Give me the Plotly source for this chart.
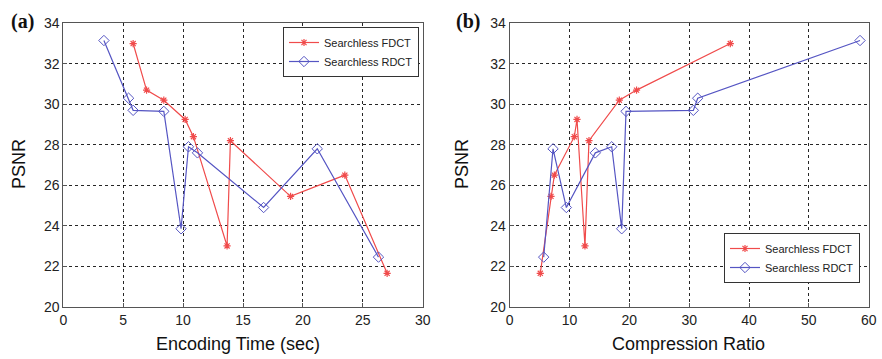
import plotly.graph_objects as go

# Panel (a): PSNR vs encoding time
time_fdct = [5.83, 6.95, 8.39, 10.17, 10.86, 13.67, 13.95, 18.97, 23.5, 27.03]
psnr_fdct_a = [33.0, 30.7, 30.2, 29.25, 28.4, 23.0, 28.2, 25.45, 26.5, 21.65]
time_rdct = [3.39, 5.45, 5.83, 8.39, 9.83, 10.45, 11.2, 16.72, 21.2, 26.31]
psnr_rdct_a = [33.15, 30.3, 29.7, 29.65, 23.85, 27.9, 27.6, 24.9, 27.8, 22.45]

# Panel (b): PSNR vs compression ratio
ratio_fdct = [5.11, 6.9, 7.46, 10.8, 11.25, 12.58, 13.25, 18.32, 21.2, 36.87]
psnr_fdct_b = [21.65, 25.45, 26.5, 28.4, 29.25, 23.0, 28.2, 30.2, 30.7, 33.0]
ratio_rdct = [5.68, 7.24, 9.47, 14.31, 17.05, 18.72, 19.44, 30.69, 31.42, 58.55]
psnr_rdct_b = [22.45, 27.8, 24.9, 27.6, 27.9, 23.85, 29.65, 29.7, 30.3, 33.15]

x_ticks_a = [0, 5, 10, 15, 20, 25, 30]
x_ticks_b = [0, 10, 20, 30, 40, 50, 60]
y_ticks = [20, 22, 24, 26, 28, 30, 32, 34]

RED = "rgb(240,75,75)"
BLUE = "rgb(85,85,195)"
FONT = "Liberation Sans, Arial, sans-serif"

fig = go.Figure()

def add_pair(xf, yf, xr, yr, xa, ya, legend):
    fig.add_trace(go.Scatter(
        x=xf, y=yf, mode="lines+markers", name="Searchless FDCT",
        line=dict(color=RED, width=1.2),
        marker=dict(symbol="asterisk-open", size=6, color=RED, line=dict(color=RED, width=1.2)),
        xaxis=xa, yaxis=ya, legend=legend))
    fig.add_trace(go.Scatter(
        x=xr, y=yr, mode="lines+markers", name="Searchless RDCT",
        line=dict(color=BLUE, width=1.2),
        marker=dict(symbol="diamond-open", size=8, color=BLUE, line=dict(color=BLUE, width=1)),
        xaxis=xa, yaxis=ya, legend=legend))

add_pair(time_fdct, psnr_fdct_a, time_rdct, psnr_rdct_a, "x", "y", "legend")
add_pair(ratio_fdct, psnr_fdct_b, ratio_rdct, psnr_rdct_b, "x2", "y2", "legend2")

W, H = 882, 359
xa_dom = [63.3 / W, 422.7 / W]
xb_dom = [509.7 / W, 868.7 / W]
y_dom = [1 - 306.7 / H, 1 - 23.3 / H]

axis_common = dict(
    showgrid=True, gridcolor="rgba(0,0,0,0.85)", griddash="dot", gridwidth=1,
    showline=True, linecolor="#555", linewidth=1, mirror=True,
    ticks="inside", ticklen=4, tickcolor="#555", automargin=False,
    zeroline=False, tickfont=dict(family=FONT, size=14, color="#222"),
)

fig.update_layout(
    width=W, height=H,
    margin=dict(l=0, r=0, t=0, b=0, autoexpand=False),
    paper_bgcolor="white", plot_bgcolor="white",
    font=dict(family=FONT, color="#222"),
    xaxis=dict(domain=xa_dom, range=[0, 30], tickvals=x_ticks_a, anchor="y", **axis_common),
    yaxis=dict(domain=y_dom, range=[20, 34], tickvals=y_ticks, anchor="x", **axis_common),
    xaxis2=dict(domain=xb_dom, range=[0, 60], tickvals=x_ticks_b, anchor="y2", **axis_common),
    yaxis2=dict(domain=y_dom, range=[20, 34], tickvals=y_ticks, anchor="x2", **axis_common),
    legend=dict(x=419 / W, y=1 - 27 / H, xanchor="right", yanchor="top",
                bgcolor="white", bordercolor="#333", borderwidth=1,
                font=dict(family=FONT, size=11, color="#222"),
                tracegroupgap=0, itemwidth=30),
    legend2=dict(x=860 / W, y=1 - 233 / H, xanchor="right", yanchor="top",
                 bgcolor="white", bordercolor="#333", borderwidth=1,
                 font=dict(family=FONT, size=11, color="#222"),
                 tracegroupgap=0, itemwidth=30),
    showlegend=True,
)

ann = []
def paper_ann(text, x, y, size, angle=0, family=FONT, bold=False):
    ann.append(dict(text=f"<b>{text}</b>" if bold else text, x=x / W, y=1 - y / H,
                    xref="paper", yref="paper", showarrow=False, textangle=angle,
                    xanchor="center", yanchor="middle",
                    font=dict(family=family, size=size, color="#111")))

paper_ann("Encoding Time (sec)", 238, 344, 18)
paper_ann("Compression Ratio", 688, 344, 18)
paper_ann("PSNR", 19, 164, 18, angle=-90)
paper_ann("PSNR", 462, 164, 18, angle=-90)
paper_ann("(a)", 22, 22, 20, family="Liberation Serif, Times New Roman, serif", bold=True)
paper_ann("(b)", 468, 22, 20, family="Liberation Serif, Times New Roman, serif", bold=True)
fig.update_layout(annotations=ann)

fig.write_html("out.html", config={"displayModeBar": False},
               post_script="document.body.style.margin='0';document.body.style.padding='0';")
